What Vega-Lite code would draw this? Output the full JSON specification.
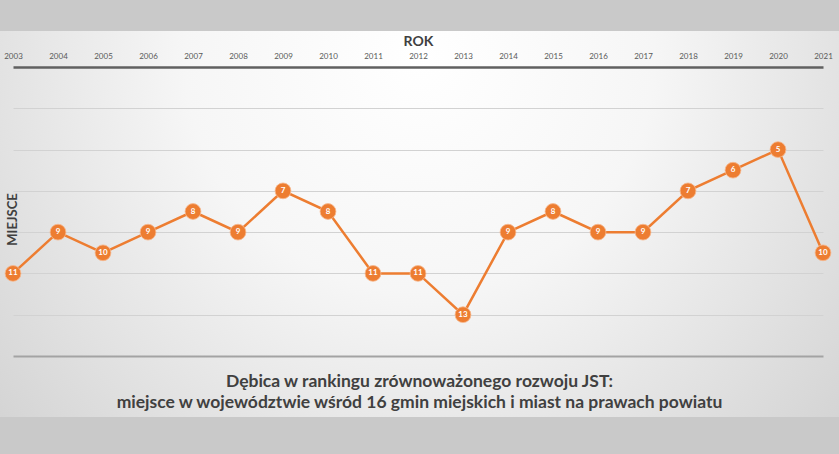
{
  "$schema": "https://vega.github.io/schema/vega-lite/v6.json",
  "width": 839,
  "height": 386,
  "autosize": {"type": "none"},
  "padding": {"left": 0, "top": 31, "right": 0, "bottom": 37},
  "background": "#c9c9c9",
  "config": {
    "view": {
      "stroke": null,
      "fill": {"gradient": "radial", "x1": 0.5, "y1": 0.3, "r1": 0, "x2": 0.5, "y2": 0.3, "r2": 0.8,
        "stops": [{"offset": 0, "color": "#ffffff"}, {"offset": 0.35, "color": "#f6f6f6"}, {"offset": 1, "color": "#c8c8c8"}]}
    },
    "font": "Lato"
  },
  "title": {
    "text": ["Dębica w rankingu zrównoważonego rozwoju JST:", "miejsce w województwie wśród 16 gmin miejskich i miast na prawach powiatu"],
    "orient": "bottom",
    "anchor": "middle",
    "offset": -44,
    "font": "Lato",
    "fontSize": 17.5,
    "fontWeight": "bold",
    "color": "#404040",
    "lineHeight": 21
  },
  "data": {
    "values": [
      {"year": 2003, "rank": 11}, {"year": 2004, "rank": 9}, {"year": 2005, "rank": 10},
      {"year": 2006, "rank": 9}, {"year": 2007, "rank": 8}, {"year": 2008, "rank": 9},
      {"year": 2009, "rank": 7}, {"year": 2010, "rank": 8}, {"year": 2011, "rank": 11},
      {"year": 2012, "rank": 11}, {"year": 2013, "rank": 13}, {"year": 2014, "rank": 9},
      {"year": 2015, "rank": 8}, {"year": 2016, "rank": 9}, {"year": 2017, "rank": 9},
      {"year": 2018, "rank": 7}, {"year": 2019, "rank": 6}, {"year": 2020, "rank": 5},
      {"year": 2021, "rank": 10}
    ]
  },
  "encoding": {
    "x": {"field": "year", "type": "quantitative",
      "scale": {"domain": [2003, 2021], "range": [13, 823], "nice": false, "zero": false},
      "axis": {"orient": "top", "offset": -36, "values": [2003,2004,2005,2006,2007,2008,2009,2010,2011,2012,2013,2014,2015,2016,2017,2018,2019,2020,2021],
        "format": "d", "ticks": false, "grid": false, "labelFontSize": 8, "labelColor": "#595959", "labelPadding": 7,
        "labelFont": "Lato", "labelFlush": false,
        "domainColor": "#606060", "domainWidth": 2.5,
        "title": "ROK", "titleFont": "Lato", "titleFontSize": 14, "titleFontWeight": "bold", "titleColor": "#404040", "titlePadding": 4}},
    "y": {"field": "rank", "type": "quantitative",
      "scale": {"domain": [1, 15], "range": [36, 325], "nice": false, "zero": false},
      "axis": {"values": [3, 5, 7, 9, 11, 13, 15], "labels": false, "ticks": false, "domain": false,
        "grid": true,
        "gridColor": {"condition": {"test": "datum.value == 15", "value": "#a3a3a3"}, "value": "#d2d2d2"},
        "gridWidth": {"condition": {"test": "datum.value == 15", "value": 2}, "value": 1},
        "title": "MIEJSCE", "titleFont": "Lato", "titleFontSize": 13, "titleFontWeight": "bold", "titleColor": "#404040",
        "titleAngle": -90, "titleX": 12, "titleY": 188, "titleAlign": "center", "titleBaseline": "middle"}}
  },
  "layer": [
    {
      "mark": {"type": "line", "color": "#ED7D31", "strokeWidth": 2.5}
    },
    {
      "mark": {"type": "point", "filled": true, "shape": "circle", "size": 250, "color": "#ED7D31", "opacity": 1,
        "stroke": "#f6b98f", "strokeWidth": 0.8}
    },
    {
      "mark": {"type": "text", "color": "#ffffff", "fontSize": 8, "fontWeight": "bold", "font": "Lato", "align": "center", "baseline": "middle"},
      "encoding": {
        "text": {"field": "rank", "type": "quantitative"}
      }
    }
  ]
}
